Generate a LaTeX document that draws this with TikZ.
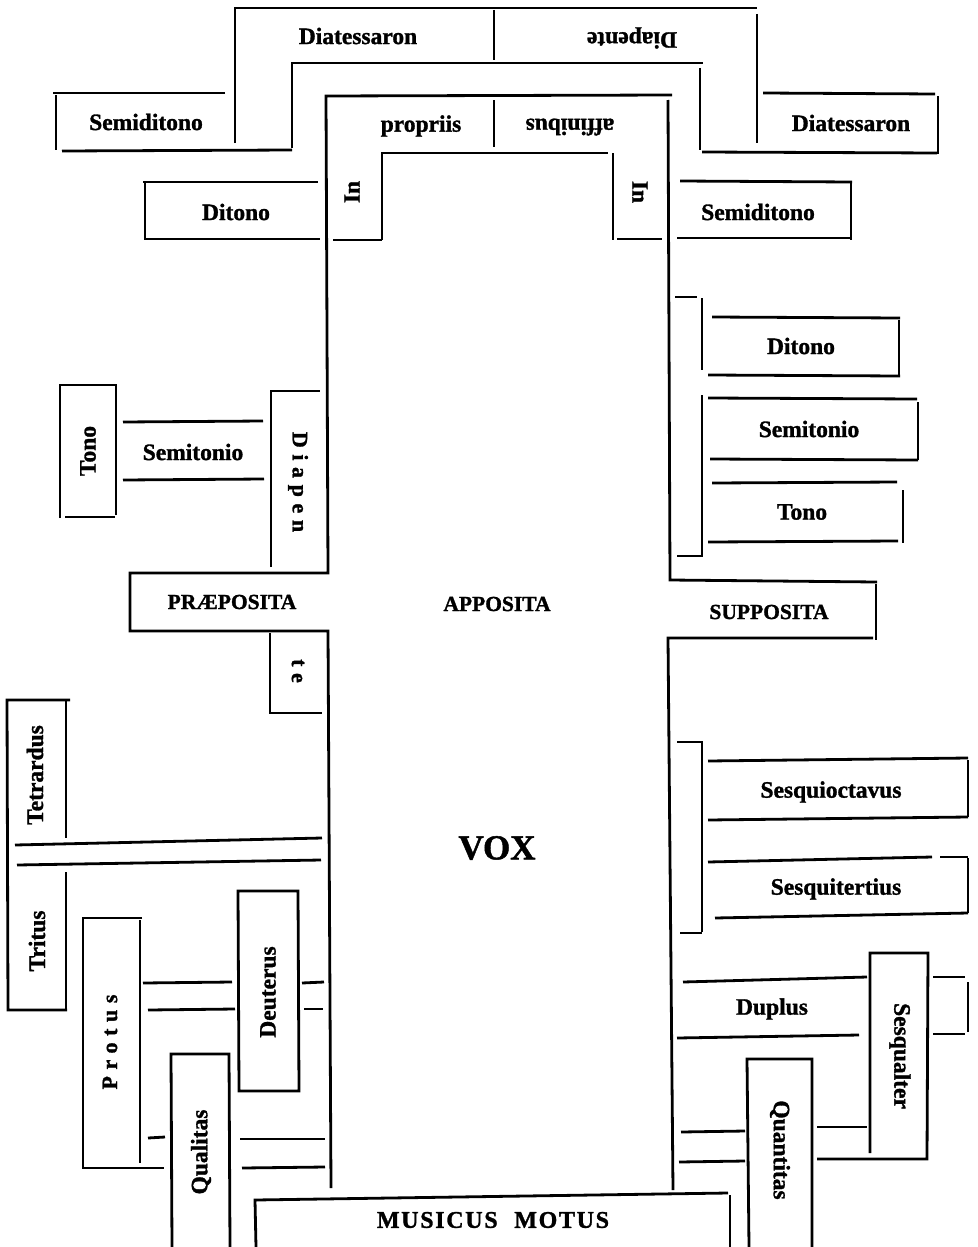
\documentclass[tikz,border=0pt]{standalone}
\usepackage{fontspec}
\setmainfont{Liberation Serif}[BoldFeatures={FakeBold=1.3}]
\begin{document}
\begin{tikzpicture}[x=1pt,y=-1pt,
  ln/.style={line width=2.8pt, line join=miter},
  lbl/.style={font=\fontsize{23.5}{26}\selectfont\bfseries, inner sep=0pt},
  caplbl/.style={font=\fontsize{21.5}{24}\selectfont\bfseries, inner sep=0pt},
  spaced/.style={font=\fontsize{22}{26}\selectfont\bfseries\addfontfeature{LetterSpace=30}, inner sep=0pt},
  up/.style={rotate=90},
  down/.style={rotate=-90},
  flip/.style={rotate=180}]
\useasboundingbox (0,0) rectangle (977,1247);
% ---------- top frames ----------
\draw[ln] (235,143)--(235,8)--(757,8);
\draw[ln] (757,14)--(757,143);
\draw[ln] (494,10)--(494,60);
\draw[ln] (292,148)--(292,63)--(703,63);
\draw[ln] (700,68)--(700,150);
% Semiditono (left)
\draw[ln] (225,93)--(53,93);
\draw[ln] (56,95)--(56,150);
\draw[ln] (62,151)--(292,150);
% Diatessaron (right)
\draw[ln] (763,93)--(935,94);
\draw[ln] (938,96)--(938,154);
\draw[ln] (702,152)--(937,153);
% main column
\draw[ln] (672,95)--(326,96)--(328,573)--(130,573)--(130,631)--(328,631)--(331,1188);
\draw[ln] (494,100)--(494,147);
\draw[ln] (382,240)--(382,153)--(608,153);
\draw[ln] (613,153)--(613,240);
\draw[ln] (333,240)--(382,240);
\draw[ln] (617,239)--(662,239);
% Ditono (left)
\draw[ln] (143,182)--(318,182);
\draw[ln] (145,182)--(145,240);
\draw[ln] (145,239)--(320,239);
% Semiditono (right)
\draw[ln] (680,181)--(852,182);
\draw[ln] (851,183)--(851,240);
\draw[ln] (677,238)--(852,238);
% ---------- middle left ----------
\draw[ln] (60,518)--(60,385)--(117,385);
\draw[ln] (116,385)--(116,515);
\draw[ln] (65,517)--(115,517);
\draw[ln] (123,422)--(263,421);
\draw[ln] (123,480)--(264,479);
\draw[ln] (271,567)--(271,391)--(320,391);
\draw[ln] (270,633)--(270,713)--(322,713);
% ---------- middle right ----------
\draw[ln] (668,100)--(670,580)--(877,582);
\draw[ln] (876,584)--(876,640);
\draw[ln] (873,638)--(668,638)--(673,1190);
\draw[ln] (675,297)--(697,297);
\draw[ln] (702,298)--(702,370);
\draw[ln] (712,317)--(900,318);
\draw[ln] (899,320)--(899,377);
\draw[ln] (708,375)--(900,376);
\draw[ln] (702,395)--(702,557);
\draw[ln] (677,556)--(703,556);
\draw[ln] (708,398)--(917,399);
\draw[ln] (918,402)--(918,460);
\draw[ln] (710,459)--(918,460);
\draw[ln] (712,483)--(897,482);
\draw[ln] (903,490)--(903,543);
\draw[ln] (708,542)--(898,541);
% ---------- bottom left ----------
\draw[ln] (70,700)--(7,700)--(8,1010)--(67,1010);
\draw[ln] (66,700)--(66,838);
\draw[ln] (15,845)--(322,838);
\draw[ln] (17,865)--(321,860);
\draw[ln] (66,872)--(66,1010);
\draw[ln] (142,918)--(83,918)--(83,1168)--(164,1168);
\draw[ln] (140,920)--(140,1163);
\draw[ln] (143,983)--(232,982);
\draw[ln] (148,1010)--(235,1009);
\draw[ln] (239,1091)--(238,891)--(298,891)--(299,1091)--cycle;
\draw[ln] (302,983)--(324,982);
\draw[ln] (304,1009)--(323,1009);
\draw[ln] (172,1247)--(171,1054)--(229,1054)--(230,1247);
\draw[ln] (148,1138)--(165,1137);
\draw[ln] (240,1139)--(325,1139);
\draw[ln] (242,1168)--(325,1167);
\draw[ln] (256,1247)--(255,1200)--(728,1193);
\draw[ln] (730,1195)--(730,1247);
% ---------- bottom right ----------
\draw[ln] (677,742)--(703,742);
\draw[ln] (702,742)--(702,932);
\draw[ln] (680,933)--(702,933);
\draw[ln] (708,761)--(968,758);
\draw[ln] (968,760)--(968,817);
\draw[ln] (708,820)--(968,817);
\draw[ln] (708,862)--(932,857);
\draw[ln] (940,857)--(968,857);
\draw[ln] (968,858)--(968,913);
\draw[ln] (715,918)--(968,913);
\draw[ln] (870,1153)--(870,953)--(928,953)--(927,1159)--(817,1159);
\draw[ln] (933,977)--(965,977);
\draw[ln] (968,982)--(968,1032);
\draw[ln] (933,1034)--(965,1034);
\draw[ln] (683,982)--(867,977);
\draw[ln] (677,1038)--(859,1035);
\draw[ln] (749,1247)--(747,1059)--(812,1059)--(812,1247);
\draw[ln] (681,1132)--(745,1131);
\draw[ln] (679,1162)--(745,1161);
\draw[ln] (817,1127)--(867,1127);
% ---------- labels ----------
\node[lbl] (diatA) at (358,36) {Diatessaron};
\node[lbl,flip] (diapA) at (632,38) {Diapente};
\node[lbl] (semiL) at (146,122) {Semiditono};
\node[lbl] (diatB) at (851,123) {Diatessaron};
\node[lbl] (prop) at (421,126) {propriis};
\node[lbl,flip] (affi) at (570,127) {affinibus};
\node[lbl,up] (inL) at (352,192) {In};
\node[lbl,down] (inR) at (640,192) {In};
\node[lbl] (ditL) at (236,212) {Ditono};
\node[lbl] (semiR) at (758,212) {Semiditono};
\node[lbl,up] (tonoL) at (88,451) {Tono};
\node[lbl] (semtL) at (193,452) {Semitonio};
\node[spaced,down] (diapen) at (298,482) {Diapen};
\node[spaced,down] (te) at (298,671) {te};
\node[caplbl] (prae) at (232,602) {PRÆPOSITA};
\node[caplbl] (appo) at (497,604) {APPOSITA};
\node[caplbl] (suppo) at (769,612) {SUPPOSITA};
\node[lbl] (ditR) at (801,346) {Ditono};
\node[lbl] (semtR) at (809,429) {Semitonio};
\node[lbl] (tonoR) at (802,512) {Tono};
\node[font=\fontsize{35}{38}\selectfont\bfseries, inner sep=0pt] (vox) at (497,848) {VOX};
\node[lbl,up] (tetr) at (35,775) {Tetrardus};
\node[lbl,up] (trit) at (37,941) {Tritus};
\node[spaced,up] (prot) at (110,1042) {Protus};
\node[lbl,up] (deut) at (268,992) {Deuterus};
\node[lbl,up] (qual) at (201,1152) {Qualitas};
\node[font=\fontsize{24}{28}\selectfont\bfseries\addfontfeature{LetterSpace=7}, inner sep=0pt] (musm) at (493,1220) {MUSICUS\hspace{9pt} MOTUS};
\node[lbl] (sesoct) at (831,792) {Sesquioctavus};
\node[lbl] (sester) at (836,889) {Sesquitertius};
\node[lbl] (dupl) at (772,1009) {Duplus};
\node[lbl,down] (sesq) at (900,1056) {Sesqualter};
\node[lbl,down] (quan) at (780,1150) {Quantitas};
\end{tikzpicture}
\end{document}
